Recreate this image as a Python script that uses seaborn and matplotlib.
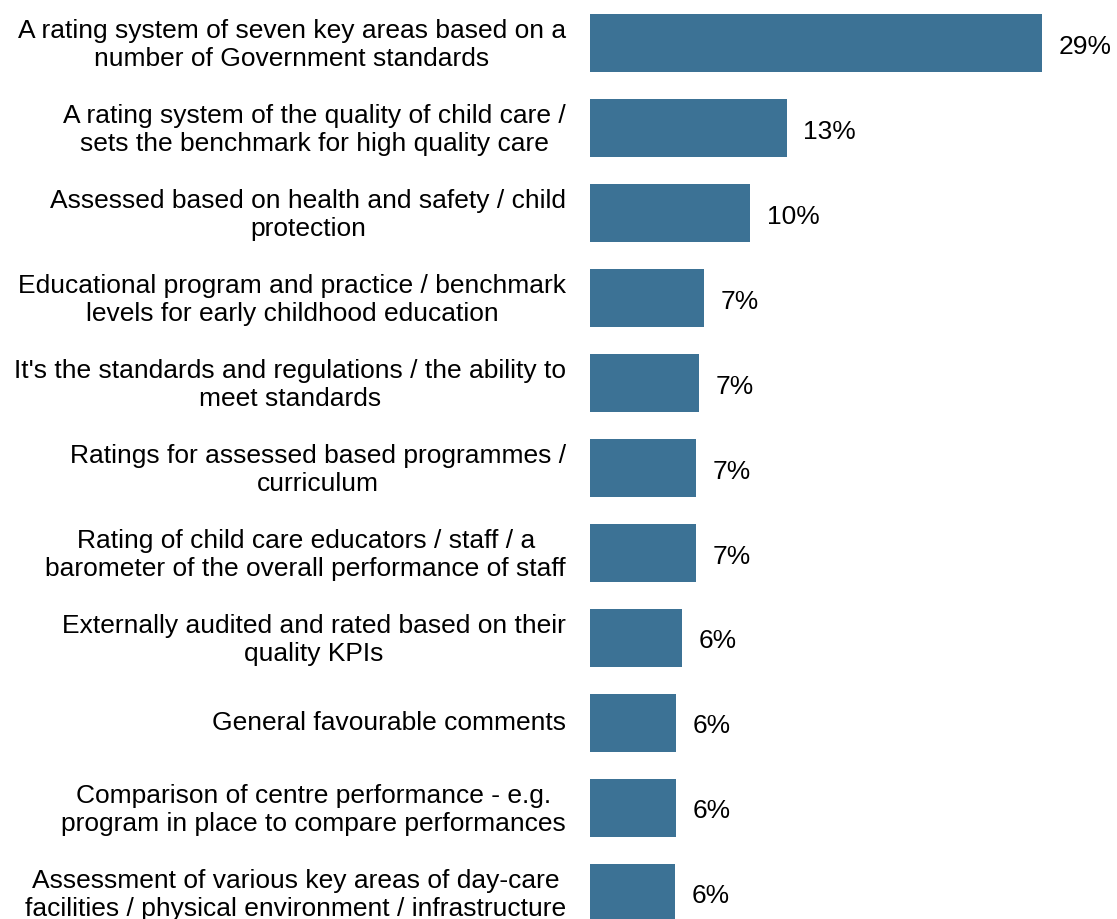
import matplotlib
matplotlib.use("Agg")
import matplotlib.pyplot as plt
import matplotlib.transforms as mtransforms
import seaborn as sns
import pandas as pd

# Answers (share of respondents, %)
categories = [
    "A rating system of seven key areas based on a\nnumber of Government standards",
    "A rating system of the quality of child care /\nsets the benchmark for high quality care",
    "Assessed based on health and safety / child\nprotection",
    "Educational program and practice / benchmark\nlevels for early childhood education",
    "It's the standards and regulations / the ability to\nmeet standards",
    "Ratings for assessed based programmes /\ncurriculum",
    "Rating of child care educators / staff / a\nbarometer of the overall performance of staff",
    "Externally audited and rated based on their\nquality KPIs",
    "General favourable comments",
    "Comparison of centre performance - e.g.\nprogram in place to compare performances",
    "Assessment of various key areas of day-care\nfacilities / physical environment / infrastructure",
]
values = [29.0, 12.65, 10.3, 7.35, 7.0, 6.85, 6.85, 5.95, 5.55, 5.55, 5.5]
value_labels = ["29%", "13%", "10%", "7%", "7%", "7%", "7%", "6%", "6%", "6%", "6%"]

df = pd.DataFrame({"answer": categories, "pct": values})

sns.set_theme(style="white")
plt.rcParams["font.family"] = ["Liberation Sans", "DejaVu Sans"]

fig = plt.figure(figsize=(11.17, 9.2), dpi=100)
ax = fig.add_axes([0.5278, 0.0, 0.4722, 1.0])

sns.barplot(data=df, x="pct", y="answer", orient="y", color="#3C7295",
            saturation=1, width=0.68, linewidth=0, ax=ax)

for i, (v, lab) in enumerate(zip(values, value_labels)):
    ax.annotate(lab, xy=(v, i), xytext=(12, -2), textcoords="offset points",
                ha="left", va="center", fontsize=19, color="black")

ax.set_xlim(0, 33.83)
ax.set_ylim(10.31, -0.516)
ax.set_xlabel("")
ax.set_ylabel("")
ax.set_xticks([])
ax.tick_params(axis="y", length=0, pad=17, labelsize=19, labelcolor="black")
# nudge the category labels up a little
shift = mtransforms.ScaledTranslation(0, 3 / 100, fig.dpi_scale_trans)
for t in ax.get_yticklabels():
    t.set_multialignment("center")
    t.set_linespacing(1.2)
    t.set_transform(t.get_transform() + shift)
sns.despine(ax=ax, left=True, bottom=True)

fig.savefig("out.png", dpi=100)
